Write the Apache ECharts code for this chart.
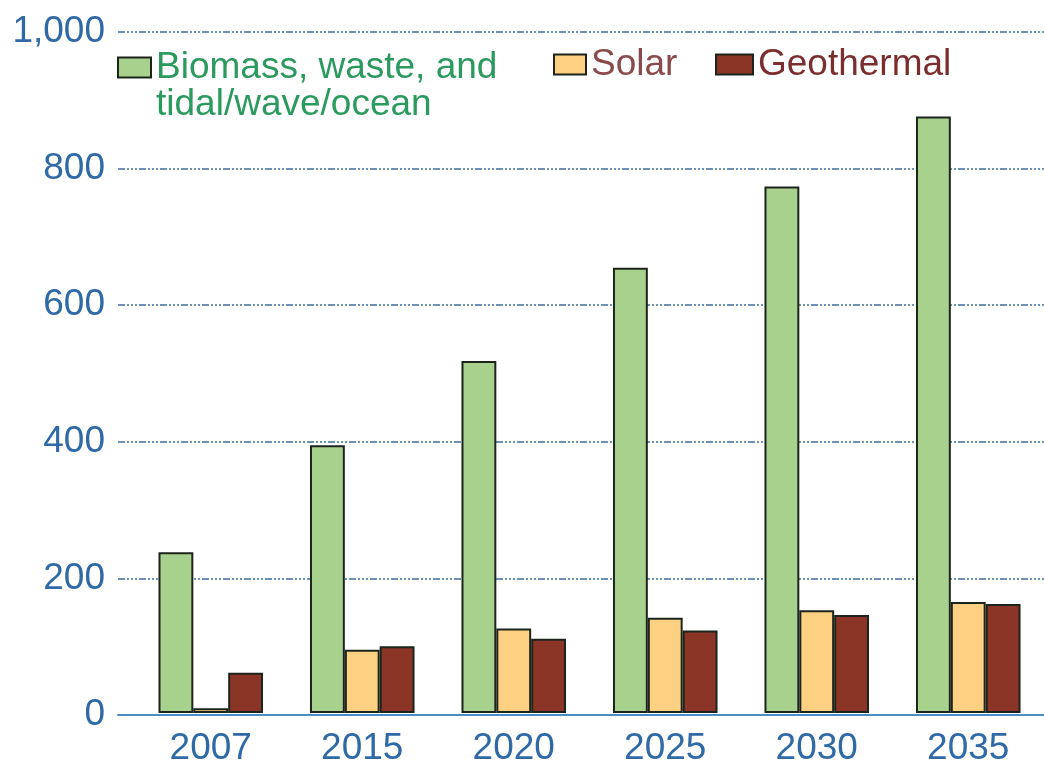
<!DOCTYPE html>
<html>
<head>
<meta charset="utf-8">
<script src="https://cdn.jsdelivr.net/npm/echarts@6/dist/echarts.min.js"></script>
<style>
  html, body { margin: 0; padding: 0; background: #ffffff; }
  #chart { width: 1044px; height: 767px; }
</style>
</head>
<body>
<div id="chart"></div>
<script>
// Renewable generation by source, 2007 and projections
const years = ['2007', '2015', '2020', '2025', '2030', '2035'];
const biomass = [236, 393, 517, 654, 773, 876];
const solar = [7, 93, 124, 140, 151, 163];
const geothermal = [59, 98, 109, 121, 144, 160];
const yTicks = [0, 200, 400, 600, 800, 1000];

const FONT = '"Liberation Sans", Arial, Helvetica, sans-serif';
const FS = 37;
const LH = 37;
const AXIS_BLUE = '#2f6aa6';
const BORDER = '#1c241c';

const seriesNames = ['Biomass, waste, and tidal/wave/ocean', 'Solar', 'Geothermal'];
const fills = ['#a9d18e', '#fdd082', '#8b3526'];
const legendColors = ['#2a9a5e', '#8a4a4c', '#7c2e2e'];

const chart = echarts.init(document.getElementById('chart'), null, { renderer: 'canvas' });

function barSeries(i, values) {
  return {
    name: seriesNames[i],
    type: 'bar',
    xAxisIndex: 1,
    yAxisIndex: 1,
    data: values,
    barWidth: '23%',
    barGap: '0%',
    itemStyle: { color: fills[i], borderColor: BORDER, borderWidth: 2 },
    emphasis: { disabled: true }
  };
}

function legendFor(i, left, top, w, extra) {
  return Object.assign({
    data: [{ name: seriesNames[i], icon: 'rect' }],
    left: left,
    top: top,
    padding: 0,
    itemWidth: w,
    itemHeight: 20,
    selectedMode: false,
    textStyle: { fontFamily: FONT, fontSize: FS, lineHeight: LH, color: legendColors[i] }
  }, extra || {});
}

chart.setOption({
  animation: false,
  backgroundColor: '#ffffff',
  grid: [
    // frame carrying the value scale, dotted guides and baseline
    { left: 118, right: 0, top: 32, bottom: 52 },
    // frame carrying the bar groups
    { left: 135, width: 920, top: 32, bottom: 52 }
  ],
  xAxis: [
    {
      gridIndex: 0, type: 'value', min: 0, max: 1,
      axisLine: { show: true, onZero: false, lineStyle: { color: '#4a8cc6', width: 2 } },
      axisTick: { show: false }, axisLabel: { show: false }, splitLine: { show: false }
    },
    {
      gridIndex: 1, type: 'category', data: years,
      axisLine: { show: false }, axisTick: { show: false },
      axisLabel: { fontFamily: FONT, fontSize: FS, color: AXIS_BLUE, margin: 17 }
    }
  ],
  yAxis: [
    {
      gridIndex: 0, type: 'value', min: yTicks[0], max: yTicks[yTicks.length - 1], interval: 200,
      axisLine: { show: false }, axisTick: { show: false },
      axisLabel: {
        fontFamily: FONT, fontSize: FS, color: AXIS_BLUE, margin: 13,
        formatter: v => yTicks.indexOf(v) >= 0 ? v.toLocaleString('en-US') : ''
      },
      splitLine: {
        show: true,
        lineStyle: { color: '#3f6f9f', width: 1.5, type: [7, 2, 2, 2, 2, 2, 2, 2] }
      }
    },
    {
      gridIndex: 1, type: 'value', min: 0, max: 1000, show: false
    }
  ],
  legend: [
    // the blank first line keeps "Biomass…" level with its swatch
    legendFor(0, 117, 12, 33, {
      formatter: () => '\nBiomass, waste, and\ntidal/wave/ocean'
    }),
    legendFor(1, 553, 46, 32),
    legendFor(2, 715, 46, 37)
  ],
  series: [
    barSeries(0, biomass),
    barSeries(1, solar),
    barSeries(2, geothermal)
  ]
});
</script>
</body>
</html>
